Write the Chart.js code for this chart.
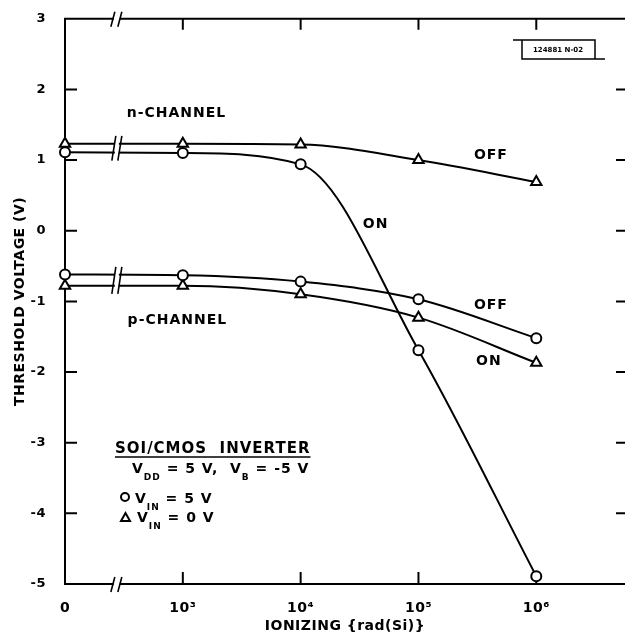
<!DOCTYPE html>
<html>
<head>
<meta charset="utf-8">
<script src="https://cdn.jsdelivr.net/npm/chart.js@4.4.1/dist/chart.umd.min.js"></script>
<style>
  body { margin: 0; background: #fff; }
  canvas { display: block; }
</style>
</head>
<body>
<canvas id="grafico" width="633" height="636"></canvas>
<script>
// eixo x: 2 = dose zero (antes da quebra), 3..6 = log10 da dose
const doses = [2, 3, 4, 5, 6];
const xTicks = [2, 3, 4, 5, 6];
const xTickLabels = ["0", "10³", "10⁴", "10⁵", "10⁶"];
const yTicks = [-5, -4, -3, -2, -1, 0, 1, 2, 3];

const nOff = [1.23, 1.23, 1.22, 1.00, 0.69];      // triângulos
const nOn  = [1.11, 1.10, 0.94, -1.69, -4.89];    // círculos
const pOff = [-0.62, -0.63, -0.72, -0.97, -1.52]; // círculos
const pOn  = [-0.78, -0.78, -0.90, -1.23, -1.87]; // triângulos

const quebraX = 2.44;
const fonte = '"DejaVu Sans", sans-serif';

const rotulos = [
  { text: "n-CHANNEL", x: 2.946, y: 1.66 },
  { text: "OFF", x: 5.615, y: 1.07 },
  { text: "ON", x: 4.636, y: 0.085 },
  { text: "OFF", x: 5.615, y: -1.056 },
  { text: "p-CHANNEL", x: 2.954, y: -1.268 },
  { text: "ON", x: 5.598, y: -1.845 }
];

const serie = (vals, estilo, raio) => ({
  data: doses.map((x, i) => ({ x, y: vals[i] })),
  borderColor: "#000",
  borderWidth: 2,
  pointStyle: estilo,
  pointRadius: raio,
  pointBorderWidth: 2,
  pointBackgroundColor: "#fff",
  pointBorderColor: "#000",
  cubicInterpolationMode: "monotone",
  fill: false,
  clip: false
});

// texto com subscritos, desenhado por partes
function textoSub(ctx, x, y, partes) {
  partes.forEach(([t, sub]) => {
    ctx.font = sub ? "bold 9px " + fonte : "bold 14px " + fonte;
    ctx.fillText(t, x, sub ? y + 7 : y);
    x += ctx.measureText(t).width;
  });
}

const moldura = {
  id: "moldura",
  beforeDraw(chart) {
    chart.ctx.letterSpacing = "0.5px";
  },
  beforeDatasetsDraw(chart) {
    const { ctx, chartArea: a, scales: { x, y } } = chart;
    ctx.save();
    ctx.strokeStyle = "#000";
    ctx.lineWidth = 2;
    ctx.beginPath();
    ctx.moveTo(a.left, a.top - 1); ctx.lineTo(a.left, a.bottom + 1);
    ctx.moveTo(a.left, a.top); ctx.lineTo(a.right, a.top);
    ctx.moveTo(a.left, a.bottom); ctx.lineTo(a.right, a.bottom);
    yTicks.forEach(v => {
      const py = y.getPixelForValue(v);
      ctx.moveTo(a.left, py); ctx.lineTo(a.left + 12, py);
      if (v > y.min && v < y.max) { ctx.moveTo(a.right - 9, py); ctx.lineTo(a.right, py); }
    });
    xTicks.slice(1).forEach(v => {
      const px = x.getPixelForValue(v);
      ctx.moveTo(px, a.top); ctx.lineTo(px, a.top + 11);
      ctx.moveTo(px, a.bottom); ctx.lineTo(px, a.bottom - 12);
    });
    ctx.stroke();

    // quebras nos eixos
    const qx = x.getPixelForValue(quebraX);
    ctx.lineWidth = 1.6;
    [a.top, a.bottom].forEach(py => {
      ctx.fillStyle = "#fff";
      ctx.fillRect(qx - 3, py - 2, 6, 4);
      ctx.beginPath();
      ctx.moveTo(qx - 6, py + 8); ctx.lineTo(qx - 2, py - 7);
      ctx.moveTo(qx + 1, py + 8); ctx.lineTo(qx + 5, py - 7);
      ctx.stroke();
    });
    ctx.restore();
  },
  afterDatasetsDraw(chart) {
    const { ctx, scales: { x, y } } = chart;
    const qx = x.getPixelForValue(quebraX);
    ctx.save();
    ctx.strokeStyle = "#000";
    ctx.fillStyle = "#000";

    // quebras nas curvas
    [[nOff, nOn], [pOff, pOn]].forEach(grupo => {
      const ys = grupo.map(v => y.getPixelForValue(v[0] + (v[1] - v[0]) * (quebraX - doses[0])));
      const topo = Math.min(...ys) - 8, base = Math.max(...ys) + 8;
      ctx.fillStyle = "#fff";
      ctx.fillRect(qx - 2, topo + 3, 4, base - topo - 6);
      ctx.lineWidth = 1.6;
      ctx.beginPath();
      ctx.moveTo(qx - 5, base); ctx.lineTo(qx - 1, topo);
      ctx.moveTo(qx + 1, base); ctx.lineTo(qx + 5, topo);
      ctx.stroke();
    });

    // rótulos das curvas
    ctx.fillStyle = "#000";
    ctx.letterSpacing = "1px";
    ctx.font = "bold 14px " + fonte;
    ctx.textAlign = "center";
    ctx.textBaseline = "middle";
    rotulos.forEach(r => ctx.fillText(r.text, x.getPixelForValue(r.x), y.getPixelForValue(r.y)));

    // legenda
    ctx.textAlign = "left";
    ctx.textBaseline = "alphabetic";
    ctx.font = "bold 15px " + fonte;
    const titulo = "SOI/CMOS  INVERTER";
    ctx.fillText(titulo, 115, 453);
    ctx.lineWidth = 1.5;
    ctx.beginPath();
    ctx.moveTo(115, 457); ctx.lineTo(115 + ctx.measureText(titulo).width, 457);
    ctx.stroke();
    textoSub(ctx, 132, 473, [["V"], ["DD", 1], [" = 5 V,  V"], ["B", 1], [" = -5 V"]]);
    textoSub(ctx, 135, 503, [["V"], ["IN", 1], [" = 5 V"]]);
    textoSub(ctx, 137, 522, [["V"], ["IN", 1], [" = 0 V"]]);
    ctx.lineWidth = 2;
    ctx.beginPath();
    ctx.arc(125, 497, 4, 0, Math.PI * 2);
    ctx.stroke();
    ctx.beginPath();
    ctx.moveTo(121, 521); ctx.lineTo(130, 521); ctx.lineTo(125.5, 513); ctx.closePath();
    ctx.stroke();

    // etiqueta do desenho
    ctx.lineWidth = 1.5;
    ctx.beginPath();
    ctx.moveTo(513, 40); ctx.lineTo(595, 40); ctx.lineTo(595, 59);
    ctx.moveTo(522, 40); ctx.lineTo(522, 59); ctx.lineTo(605, 59);
    ctx.stroke();
    ctx.letterSpacing = "0px";
    ctx.font = "bold 7px " + fonte;
    ctx.textAlign = "center";
    ctx.textBaseline = "middle";
    ctx.fillText("124881 N-02", 558, 50);
    ctx.restore();
  }
};

new Chart(document.getElementById("grafico"), {
  type: "line",
  data: {
    datasets: [
      serie(nOff, "triangle", 6),
      serie(nOn, "circle", 5),
      serie(pOff, "circle", 5),
      serie(pOn, "triangle", 6)
    ]
  },
  options: {
    responsive: false,
    animation: false,
    layout: { padding: { top: 16, right: 0, bottom: 0, left: 0 } },
    plugins: { legend: { display: false }, tooltip: { enabled: false } },
    scales: {
      x: {
        type: "linear",
        min: 2,
        max: 6.753,
        grid: { display: false },
        border: { display: false },
        afterBuildTicks: s => { s.ticks = xTicks.map(v => ({ value: v })); },
        afterFit: s => { s.height = 52; },
        ticks: {
          callback: v => xTickLabels[xTicks.indexOf(v)],
          font: { family: fonte, size: 14, weight: "bold" },
          color: "#000",
          padding: 8,
          maxRotation: 0,
          autoSkip: false
        },
        title: {
          display: true,
          text: "IONIZING {rad(Si)}",
          font: { family: fonte, size: 14, weight: "bold" },
          color: "#000",
          padding: { top: 0, bottom: 1 }
        }
      },
      y: {
        min: -5,
        max: 3,
        grid: { display: false },
        border: { display: false },
        afterBuildTicks: s => { s.ticks = yTicks.map(v => ({ value: v })); },
        afterFit: s => { s.width = 65; },
        ticks: {
          font: { family: fonte, size: 13, weight: "bold" },
          color: "#000",
          padding: 11
        },
        title: {
          display: true,
          text: "THRESHOLD VOLTAGE (V)",
          font: { family: fonte, size: 14, weight: "bold" },
          color: "#000",
          padding: { top: 12, bottom: 0 }
        }
      }
    }
  },
  plugins: [moldura]
});
</script>
</body>
</html>
